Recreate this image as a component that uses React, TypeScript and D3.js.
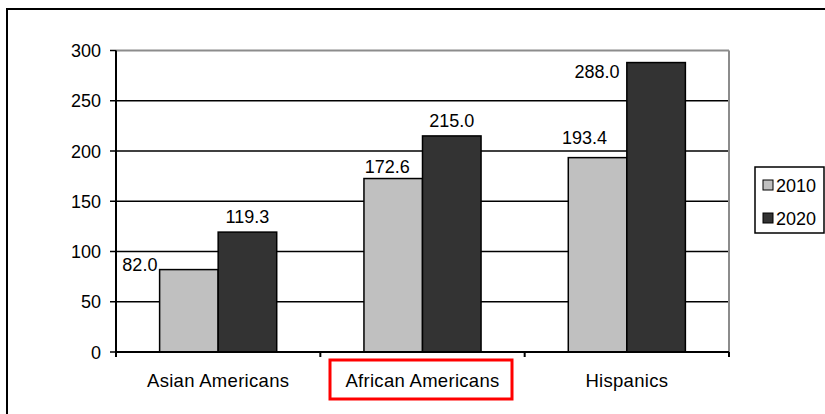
import React from "react";
import * as d3 from "d3";

// Population groups (millions) for two census years
const categories = ["Asian Americans", "African Americans", "Hispanics"];
const seriesNames = ["2010", "2020"];
const values2010 = [82.0, 172.6, 193.4];
const values2020 = [119.3, 215.0, 288.0];
const yTicks = [0, 50, 100, 150, 200, 250, 300];

// Label nudges relative to each bar's centre/top, so crowded labels stay readable
const labelNudge2010 = [
  { dx: -49, dy: -5 },
  { dx: -6, dy: -12 },
  { dx: -13, dy: -20 },
];
const labelNudge2020 = [
  { dx: 0, dy: -16 },
  { dx: 0, dy: -15 },
  { dx: -59, dy: 9 },
];

const W = 825;
const H = 414;
const plot = { left: 116, right: 729, top: 50.5, bottom: 352 };
const colors = ["#C0C0C0", "#333333"];
const font = "'Liberation Sans', Arial, sans-serif";

export default function App() {
  const x = d3
    .scaleBand<string>()
    .domain(categories)
    .range([plot.left, plot.right])
    .padding(0);
  const xSub = d3
    .scaleBand<string>()
    .domain(seriesNames)
    .range([0, x.bandwidth()])
    .paddingInner(0)
    .paddingOuter(0.745);
  const y = d3.scaleLinear().domain([0, 300]).range([plot.bottom, plot.top]);

  const series = [values2010, values2020];
  const nudges = [labelNudge2010, labelNudge2020];

  return (
    <svg
      width={W}
      height={H}
      style={{ position: "absolute", left: 0, top: 0, background: "#fff" }}
      fontFamily={font}
    >
      {/* outer chart frame */}
      <rect x={7} y={9} width={W + 10} height={H + 10} fill="#fff" stroke="#000" strokeWidth={2} />

      {/* gridlines */}
      {yTicks.slice(1, -1).map((t) => (
        <line key={t} x1={plot.left} x2={plot.right} y1={y(t)} y2={y(t)} stroke="#000" strokeWidth={1.5} />
      ))}
      {/* plot area border (top + right) */}
      <line x1={plot.left} x2={plot.right} y1={y(300)} y2={y(300)} stroke="#8c8c8c" strokeWidth={2} />
      <line x1={plot.right} x2={plot.right} y1={plot.top} y2={plot.bottom} stroke="#8c8c8c" strokeWidth={2} />

      {/* bars */}
      {series.map((vals, si) =>
        vals.map((v, ci) => {
          const bx = (x(categories[ci]) as number) + (xSub(seriesNames[si]) as number);
          return (
            <rect
              key={`${si}-${ci}`}
              x={bx}
              y={y(v)}
              width={xSub.bandwidth()}
              height={y(0) - y(v)}
              fill={colors[si]}
              stroke="#000"
              strokeWidth={1.5}
            />
          );
        })
      )}

      {/* value labels */}
      {series.map((vals, si) =>
        vals.map((v, ci) => {
          const cx =
            (x(categories[ci]) as number) + (xSub(seriesNames[si]) as number) + xSub.bandwidth() / 2;
          const n = nudges[si][ci];
          return (
            <text
              key={`l-${si}-${ci}`}
              x={cx + n.dx}
              y={y(v) + n.dy + 6.5}
              textAnchor="middle"
              fontSize={18}
              fill="#000"
            >
              {v.toFixed(1)}
            </text>
          );
        })
      )}

      {/* y axis */}
      <line x1={plot.left} x2={plot.left} y1={plot.top} y2={plot.bottom + 5} stroke="#000" strokeWidth={2} />
      {yTicks.map((t) => (
        <g key={`yt-${t}`}>
          <line x1={plot.left - 6} x2={plot.left} y1={y(t)} y2={y(t)} stroke="#000" strokeWidth={1.5} />
          <text x={plot.left - 15} y={y(t) + 6.5} textAnchor="end" fontSize={18} fill="#000">
            {t}
          </text>
        </g>
      ))}

      {/* x axis */}
      <line x1={plot.left} x2={plot.right} y1={plot.bottom} y2={plot.bottom} stroke="#000" strokeWidth={2} />
      {[...categories.map((c) => x(c) as number), plot.right].map((px, i) => (
        <line key={`xt-${i}`} x1={px} x2={px} y1={plot.bottom} y2={plot.bottom + 5} stroke="#000" strokeWidth={2} />
      ))}
      {categories.map((c) => (
        <text
          key={`xl-${c}`}
          x={(x(c) as number) + x.bandwidth() / 2}
          y={387}
          textAnchor="middle"
          fontSize={18.5}
          letterSpacing={0.3}
          fill="#000"
        >
          {c}
        </text>
      ))}

      {/* highlight around the middle category */}
      <rect x={330} y={360} width={182} height={39} fill="none" stroke="#ff0000" strokeWidth={3} />

      {/* legend */}
      <rect x={755} y={167} width={69} height={66} fill="#fff" stroke="#000" strokeWidth={1.5} />
      {seriesNames.map((s, i) => (
        <g key={`lg-${s}`}>
          <rect x={763} y={180 + i * 33} width={10} height={10} fill={colors[i]} stroke="#000" strokeWidth={1} />
          <text x={776} y={191.5 + i * 33} fontSize={18} fill="#000">
            {s}
          </text>
        </g>
      ))}
    </svg>
  );
}
